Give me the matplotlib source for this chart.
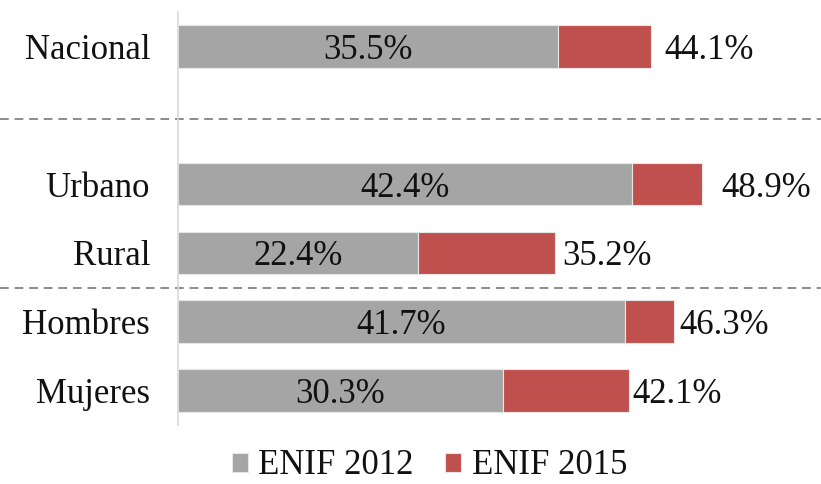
import matplotlib
matplotlib.use("Agg")
import matplotlib.pyplot as plt
import numpy as np

categories = ["Nacional", "", "Urbano", "Rural", "Hombres", "Mujeres"]
enif_2012 = [35.5, np.nan, 42.4, 22.4, 41.7, 30.3]
enif_2015 = [44.1, np.nan, 48.9, 35.2, 46.3, 42.1]
series_names = ["ENIF 2012", "ENIF 2015"]

# style
GRAY = "#A5A5A5"
RED = "#C0504D"
TXT = "#111111"
label_pad_px = [14, 0, 19, 7, 5, 3]
separators = [1.06, 3.51]

plt.rcParams["font.family"] = ["Liberation Serif", "DejaVu Serif"]
FS = 25

W, H = 821, 484
fig = plt.figure(figsize=(W / 100, H / 100), dpi=100)
ax = fig.add_axes([178 / W, (H - 425) / H, 643 / W, 413 / H])

y = np.arange(len(categories))
base = np.array(enif_2012, dtype=float)
top = np.array(enif_2015, dtype=float)
diff = top - base

ax.barh(y, base, height=0.62, color=GRAY, edgecolor="#E6E6E6", linewidth=0.8,
        label=series_names[0])
ax.barh(y, diff, left=base, height=0.62, color=RED, edgecolor="#E6E6E6",
        linewidth=0.8, label=series_names[1])

for i in range(len(categories)):
    if np.isnan(base[i]):
        continue
    ax.text(base[i] / 2, y[i], f"{base[i]:.1f}%", ha="center",
            va="center_baseline", fontsize=FS, color=TXT)
    ax.annotate(f"{top[i]:.1f}%", xy=(top[i], y[i]),
                xytext=(label_pad_px[i] * 0.72, 0), textcoords="offset points",
                ha="left", va="center_baseline", fontsize=FS, color=TXT)

ax.set_xlim(0, 60)
ax.set_ylim(len(categories) - 0.5, -0.5)
ax.set_yticks(y)
ax.set_yticklabels(categories, fontsize=FS, color=TXT)
ax.tick_params(axis="y", length=0, pad=20)
ax.set_xticks([])
for s in ["top", "right", "bottom"]:
    ax.spines[s].set_visible(False)
ax.spines["left"].set_color("#D9D9D9")
ax.spines["left"].set_linewidth(1.2)

for sy in separators:
    ax.axhline(sy, xmin=-178 / 643, xmax=1.0, clip_on=False, color="#8C8C8C",
               linewidth=1.4, linestyle=(0, (4.5, 3)))

fig.legend(loc="center", bbox_to_anchor=(0.523, 18 / H), ncol=2, frameon=False,
           fontsize=FS, handlelength=0.47, handleheight=0.47,
           handletextpad=0.3, columnspacing=0.9, borderaxespad=0,
           labelcolor=TXT)

fig.savefig("out.png", dpi=100)
